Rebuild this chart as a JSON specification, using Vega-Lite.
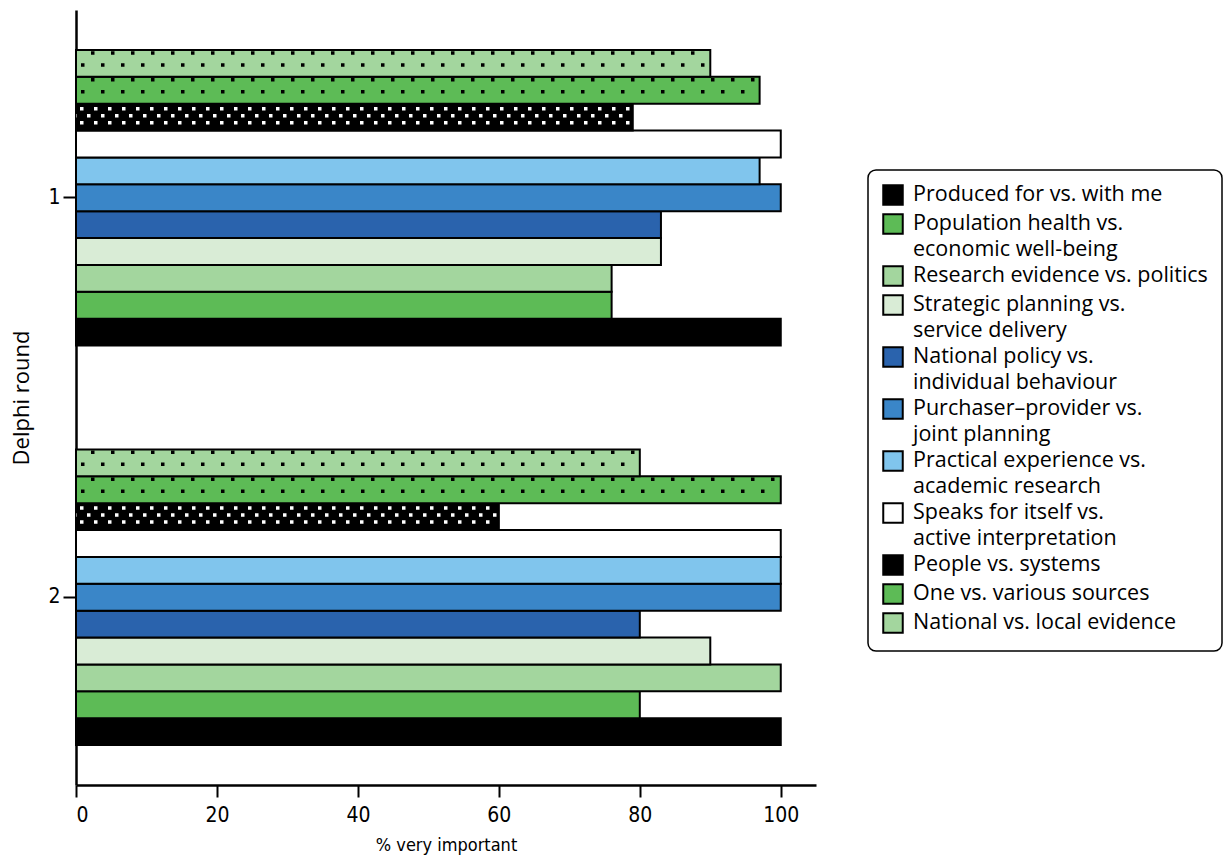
{
  "$schema": "https://vega.github.io/schema/vega-lite/v6.json",
  "autosize": {"type": "none"},
  "padding": {"left": 76, "top": 10, "right": 413, "bottom": 73},
  "width": 740,
  "height": 775,
  "background": "white",
  "config": {
    "view": {"stroke": null},
    "font": "Open Sans"
  },
  "data": {
    "values": [
      {"round": "1", "series": "Produced for vs. with me", "value": 100},
      {"round": "1", "series": "Population health vs. economic well-being", "value": 76},
      {"round": "1", "series": "Research evidence vs. politics", "value": 76},
      {"round": "1", "series": "Strategic planning vs. service delivery", "value": 83},
      {"round": "1", "series": "National policy vs. individual behaviour", "value": 83},
      {"round": "1", "series": "Purchaser–provider vs. joint planning", "value": 100},
      {"round": "1", "series": "Practical experience vs. academic research", "value": 97},
      {"round": "1", "series": "Speaks for itself vs. active interpretation", "value": 100},
      {"round": "1", "series": "People vs. systems", "value": 79},
      {"round": "1", "series": "One vs. various sources", "value": 97},
      {"round": "1", "series": "National vs. local evidence", "value": 90},
      {"round": "2", "series": "Produced for vs. with me", "value": 100},
      {"round": "2", "series": "Population health vs. economic well-being", "value": 80},
      {"round": "2", "series": "Research evidence vs. politics", "value": 100},
      {"round": "2", "series": "Strategic planning vs. service delivery", "value": 90},
      {"round": "2", "series": "National policy vs. individual behaviour", "value": 80},
      {"round": "2", "series": "Purchaser–provider vs. joint planning", "value": 100},
      {"round": "2", "series": "Practical experience vs. academic research", "value": 100},
      {"round": "2", "series": "Speaks for itself vs. active interpretation", "value": 100},
      {"round": "2", "series": "People vs. systems", "value": 60},
      {"round": "2", "series": "One vs. various sources", "value": 100},
      {"round": "2", "series": "National vs. local evidence", "value": 80}
    ]
  },
  "resolve": {"scale": {"yOffset": "independent"}},
  "encoding": {
    "y": {
      "field": "round", "type": "nominal",
      "scale": {"domain": ["1", "2"], "paddingInner": 0.26, "paddingOuter": 0.1},
      "axis": {
        "title": "Delphi round", "titleFont": "Open Sans", "titleFontSize": 22, "titleFontWeight": "normal", "titleColor": "black", "titlePadding": 14,
        "labelFont": "DejaVu Sans Condensed", "labelFontSize": 21, "labelColor": "black", "labelPadding": 3,
        "tickSize": 13, "tickColor": "black", "tickWidth": 2,
        "domainColor": "black", "domainWidth": 2.5
      }
    },
    "x": {
      "field": "value", "type": "quantitative",
      "scale": {"domain": [0, 105], "nice": false},
      "axis": {
        "values": [0, 20, 40, 60, 80, 100], "grid": false,
        "title": "% very important", "titleFont": "DejaVu Sans Condensed", "titleFontSize": 18, "titleFontWeight": "normal", "titleColor": "black", "titlePadding": 11,
        "labelFont": "DejaVu Sans Condensed", "labelFontSize": 21, "labelColor": "black", "labelPadding": 7,
        "tickSize": 12, "tickColor": "black", "tickWidth": 2,
        "domainColor": "black", "domainWidth": 2.5
      }
    }
  },
  "layer": [
    {
      "mark": {"type": "bar", "stroke": "black", "strokeWidth": 2},
      "encoding": {
        "yOffset": {
          "field": "series", "type": "nominal",
          "scale": {
            "domain": ["National vs. local evidence", "One vs. various sources", "People vs. systems", "Speaks for itself vs. active interpretation", "Practical experience vs. academic research", "Purchaser–provider vs. joint planning", "National policy vs. individual behaviour", "Strategic planning vs. service delivery", "Research evidence vs. politics", "Population health vs. economic well-being", "Produced for vs. with me"],
            "paddingInner": 0, "paddingOuter": 0
          }
        },
        "color": {
          "field": "series", "type": "nominal",
          "scale": {
            "domain": ["Produced for vs. with me", "Population health vs. economic well-being", "economic well-being", "Research evidence vs. politics", "Strategic planning vs. service delivery", "service delivery", "National policy vs. individual behaviour", "individual behaviour", "Purchaser–provider vs. joint planning", "joint planning", "Practical experience vs. academic research", "academic research", "Speaks for itself vs. active interpretation", "active interpretation", "People vs. systems", "One vs. various sources", "National vs. local evidence"],
            "range": ["#000000", "#5dbb56", "transparent", "#a3d69e", "#d9ecd6", "transparent", "#2a63ad", "transparent", "#3a86c8", "transparent", "#80c5ed", "transparent", "#ffffff", "transparent", "#000000", "#5dbb56", "#a3d69e"]
          },
          "legend": {
            "orient": "none", "legendX": 792, "legendY": 160,
            "title": null,
            "padding": 14, "strokeColor": "black", "cornerRadius": 8, "fillColor": "white",
            "symbolType": "square", "symbolSize": 380, "symbolStrokeColor": "black", "symbolStrokeWidth": 2, "symbolOpacity": 1,
            "labelFont": "Open Sans", "labelFontSize": 21.5, "labelColor": "black", "labelLimit": 400, "labelOffset": 9,
            "rowPadding": 1,
            "labelExpr": "length(datum.label) > 30 && test(/^[A-Z]/, datum.label) ? slice(datum.label, 0, indexof(datum.label, 'vs.') + 3) : datum.label",
            "encode": {
              "legend": {"update": {"strokeWidth": {"value": 1.5}}},
              "symbols": {"update": {"strokeOpacity": {"signal": "test(/^[a-z]/, datum.value) ? 0 : 1"}}}
            }
          }
        }
      }
    },
    {
      "transform": [{"filter": "datum.series === 'One vs. various sources' || datum.series === 'National vs. local evidence'"}],
      "mark": {"type": "rule", "color": "black", "strokeWidth": 3.5, "strokeDash": [3.5, 16.5], "strokeDashOffset": -5},
      "encoding": {
        "x": {"datum": 0}, "x2": {"field": "value"},
        "yOffset": {"field": "series", "type": "nominal", "scale": {
          "domain": ["National vs. local evidence", "One vs. various sources", "People vs. systems", "Speaks for itself vs. active interpretation", "Practical experience vs. academic research", "Purchaser–provider vs. joint planning", "National policy vs. individual behaviour", "Strategic planning vs. service delivery", "Research evidence vs. politics", "Population health vs. economic well-being", "Produced for vs. with me"],
          "range": [1.5, 297.1], "paddingInner": 0, "paddingOuter": 0}}
      }
    },
    {
      "transform": [{"filter": "datum.series === 'One vs. various sources' || datum.series === 'National vs. local evidence'"}],
      "mark": {"type": "rule", "color": "black", "strokeWidth": 3.5, "strokeDash": [3.5, 16.5], "strokeDashOffset": -15},
      "encoding": {
        "x": {"datum": 0}, "x2": {"field": "value"},
        "yOffset": {"field": "series", "type": "nominal", "scale": {
          "domain": ["National vs. local evidence", "One vs. various sources", "People vs. systems", "Speaks for itself vs. active interpretation", "Practical experience vs. academic research", "Purchaser–provider vs. joint planning", "National policy vs. individual behaviour", "Strategic planning vs. service delivery", "Research evidence vs. politics", "Population health vs. economic well-being", "Produced for vs. with me"],
          "range": [-10.5, 285.1], "paddingInner": 0, "paddingOuter": 0}}
      }
    },
    {
      "transform": [{"filter": "datum.series === 'People vs. systems'"}],
      "mark": {"type": "rule", "color": "white", "strokeWidth": 3.5, "strokeDash": [3.5, 10.5], "strokeDashOffset": -4},
      "encoding": {
        "x": {"datum": 0}, "x2": {"field": "value"},
        "yOffset": {"field": "series", "type": "nominal", "scale": {
          "domain": ["National vs. local evidence", "One vs. various sources", "People vs. systems", "Speaks for itself vs. active interpretation", "Practical experience vs. academic research", "Purchaser–provider vs. joint planning", "National policy vs. individual behaviour", "Strategic planning vs. service delivery", "Research evidence vs. politics", "Population health vs. economic well-being", "Produced for vs. with me"],
          "range": [-8.5, 287.1], "paddingInner": 0, "paddingOuter": 0}}
      }
    },
    {
      "transform": [{"filter": "datum.series === 'People vs. systems'"}],
      "mark": {"type": "rule", "color": "white", "strokeWidth": 3.5, "strokeDash": [3.5, 10.5], "strokeDashOffset": -11},
      "encoding": {
        "x": {"datum": 0}, "x2": {"field": "value"},
        "yOffset": {"field": "series", "type": "nominal", "scale": {
          "domain": ["National vs. local evidence", "One vs. various sources", "People vs. systems", "Speaks for itself vs. active interpretation", "Practical experience vs. academic research", "Purchaser–provider vs. joint planning", "National policy vs. individual behaviour", "Strategic planning vs. service delivery", "Research evidence vs. politics", "Population health vs. economic well-being", "Produced for vs. with me"],
          "range": [-1.5, 294.1], "paddingInner": 0, "paddingOuter": 0}}
      }
    },
    {
      "transform": [{"filter": "datum.series === 'People vs. systems'"}],
      "mark": {"type": "rule", "color": "white", "strokeWidth": 3.5, "strokeDash": [3.5, 10.5], "strokeDashOffset": -4},
      "encoding": {
        "x": {"datum": 0}, "x2": {"field": "value"},
        "yOffset": {"field": "series", "type": "nominal", "scale": {
          "domain": ["National vs. local evidence", "One vs. various sources", "People vs. systems", "Speaks for itself vs. active interpretation", "Practical experience vs. academic research", "Purchaser–provider vs. joint planning", "National policy vs. individual behaviour", "Strategic planning vs. service delivery", "Research evidence vs. politics", "Population health vs. economic well-being", "Produced for vs. with me"],
          "range": [5.5, 301.1], "paddingInner": 0, "paddingOuter": 0}}
      }
    }
  ]
}
